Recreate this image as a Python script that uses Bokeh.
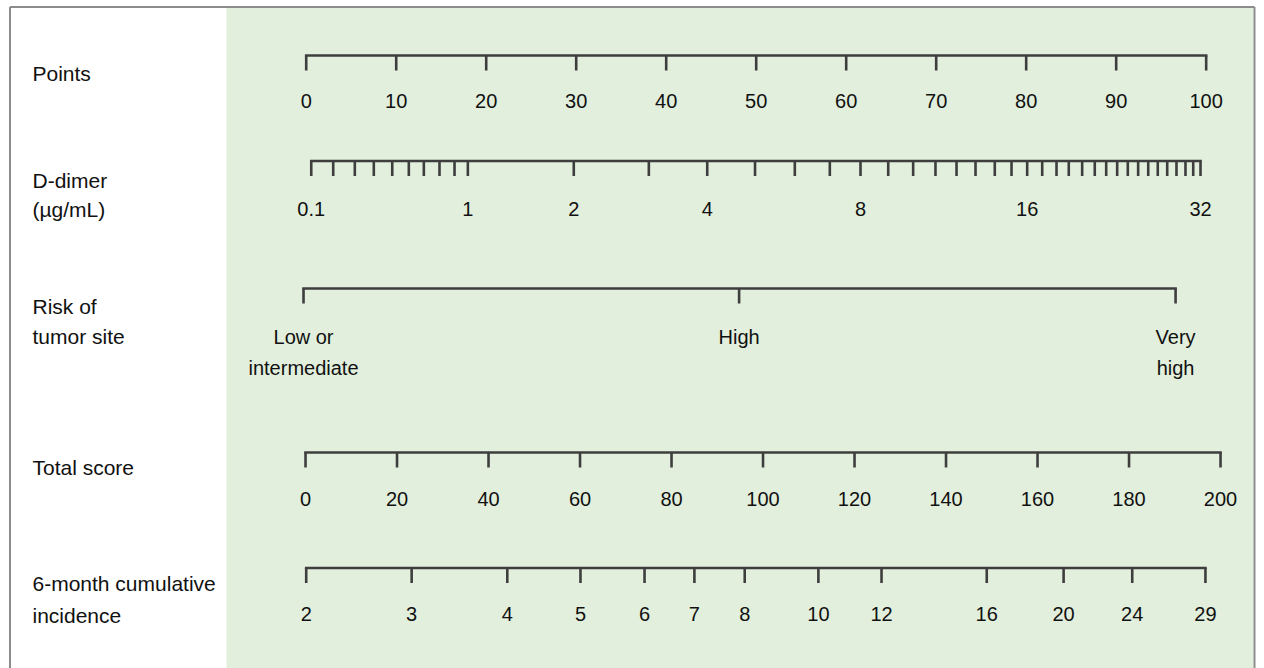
from bokeh.plotting import figure
from bokeh.models import Range1d, ColumnDataSource
from bokeh.core.properties import value
from bokeh.embed import file_html
from bokeh.resources import INLINE

# ---------------- data ----------------
points_ticks = [0, 10, 20, 30, 40, 50, 60, 70, 80, 90, 100]

ddimer_values = [0.1, 0.2, 0.3, 0.4, 0.5, 0.6, 0.7, 0.8, 0.9, 1,
                 2, 3, 4, 5, 6, 7, 8, 9, 10, 11, 12, 13, 14, 15, 16,
                 17, 18, 19, 20, 21, 22, 23, 24, 25, 26, 27, 28, 29, 30, 31, 32]
ddimer_points = [0.56, 3.0, 5.4, 7.51, 9.56, 11.4, 13.07, 14.81, 16.48, 17.96,
                 29.73, 38.07, 44.56, 49.87, 54.29, 58.18, 61.59, 64.67, 67.44, 69.92,
                 72.26, 74.37, 76.51, 78.37, 80.11, 81.78, 83.37, 84.73, 86.22, 87.62,
                 88.89, 90.11, 91.29, 92.44, 93.56, 94.62, 95.67, 96.70, 97.70, 98.56, 99.37]
ddimer_labeled = [0.1, 1, 2, 4, 8, 16, 32]

tumor_line1 = ["Low or", "High", "Very"]
tumor_line2 = ["intermediate", "", "high"]
tumor_points = [-0.3, 48.1, 96.6]

total_ticks = [0, 20, 40, 60, 80, 100, 120, 140, 160, 180, 200]

incidence_values = [2, 3, 4, 5, 6, 7, 8, 10, 12, 16, 20, 24, 29]
incidence_total = [0.15, 23.2, 44.1, 60.1, 74.1, 85.0, 96.0, 112.1, 125.9, 148.9, 165.7, 180.7, 196.7]

row_labels = [["Points"], ["D-dimer", "(\u00b5g/mL)"], ["Risk of", "tumor site"],
              ["Total score"], ["6-month cumulative", "incidence"]]

# ---------------- style / layout ----------------
FONT = value("Liberation Sans")
LINE_COLOR = "#3e3e3e"
LINE_W = 2.6
TICK_LEN = 15
TXT = "#111111"
TICK_FS = "20px"
ROW_FS = "21px"

p = figure(width=1264, height=668,
           x_range=Range1d(-33.97, 106.48), y_range=Range1d(668, 0),
           output_backend="svg", toolbar_location=None,
           x_axis_type=None, y_axis_type=None, min_border=0,
           outline_line_color=None, background_fill_color="white",
           border_fill_color="white")
p.extra_x_ranges = {"total": Range1d(-66.67, 209.61), "px": Range1d(0, 1264)}

# panel background + frame
p.quad(left=[226], right=[1253], top=[7.5], bottom=[668], x_range_name="px",
       fill_color="#e2efdc", line_color=None)
p.segment(x0=[9.5, 9.5, 1254], y0=[6.5, 6.5, 6.5], x1=[9.5, 1254, 1254], y1=[668, 6.5, 668],
          x_range_name="px", line_color="#8c8c8c", line_width=2)


def draw_scale(xs, y_line, rng, labels, label_xs, label_y, label_y2=None, labels2=None):
    kw = {} if rng is None else {"x_range_name": rng}
    p.segment(x0=[min(xs)], x1=[max(xs)], y0=[y_line], y1=[y_line],
              line_color=LINE_COLOR, line_width=LINE_W, line_cap="square", **kw)
    p.segment(x0=xs, x1=xs, y0=[y_line] * len(xs), y1=[y_line + TICK_LEN] * len(xs),
              line_color=LINE_COLOR, line_width=LINE_W, **kw)
    src = ColumnDataSource(dict(x=label_xs, y=[label_y] * len(label_xs), t=labels))
    p.text(x="x", y="y", text="t", source=src, text_align="center",
           text_baseline="alphabetic", text_font=FONT, text_font_size=TICK_FS,
           text_color=TXT, **kw)
    if labels2 is not None:
        src2 = ColumnDataSource(dict(x=label_xs, y=[label_y2] * len(label_xs), t=labels2))
        p.text(x="x", y="y", text="t", source=src2, text_align="center",
               text_baseline="alphabetic", text_font=FONT, text_font_size=TICK_FS,
               text_color=TXT, **kw)


# Points
draw_scale(points_ticks, 55, None, [str(v) for v in points_ticks], points_ticks, 100)
# D-dimer
dd_lab_x = [ddimer_points[ddimer_values.index(v)] for v in ddimer_labeled]
draw_scale(ddimer_points, 160.5, None, [f"{v:g}" for v in ddimer_labeled], dd_lab_x, 208)
# Tumor site
draw_scale(tumor_points, 288, None, tumor_line1, tumor_points, 336.5, 367.5, tumor_line2)
# Total score
draw_scale(total_ticks, 452, "total", [str(v) for v in total_ticks], total_ticks, 498)
# Incidence
draw_scale(incidence_total, 567.5, "total", [str(v) for v in incidence_values],
           incidence_total, 613)

# row labels
row_base = [[73], [180, 209], [306, 336], [466.5], [583, 615]]
lx, ly, lt = [], [], []
for labs, ys in zip(row_labels, row_base):
    for t, y in zip(labs, ys):
        lx.append(32)
        ly.append(y)
        lt.append(t)
p.text(x=lx, y=ly, text=lt, x_range_name="px", text_align="left",
       text_baseline="alphabetic", text_font=FONT, text_font_size=ROW_FS,
       text_color=TXT)

open("out.html", "w").write(file_html(p, INLINE))
